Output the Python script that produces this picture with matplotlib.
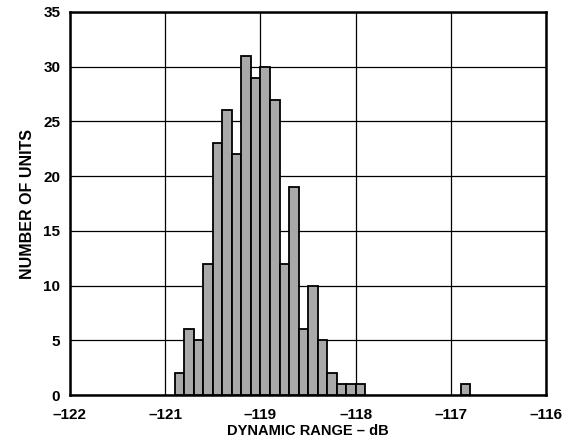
import matplotlib
matplotlib.use('Agg')
import matplotlib.pyplot as plt
plt.rcParams.update({'font.size': 10, 'font.family': ['Liberation Sans', 'DejaVu Sans'],
                     'font.weight': 'bold'})

# left edges of each 0.1 dB bin, and units counted in it
bin_left = [-120.9, -120.8, -120.7, -120.6, -120.5, -120.4, -120.3, -120.2, -120.1, -120.0,
            -119.9, -119.8, -119.7, -119.6, -119.5, -119.4, -119.3, -119.2, -119.1, -119.0,
            -117.9]
units = [2, 6, 5, 12, 23, 26, 22, 31, 29, 30,
         27, 12, 19, 6, 10, 5, 2, 1, 1, 1,
         1]
bin_width = 0.1

x_ticks = [-122, -121, -120, -119, -118, -117]
x_tick_labels = ['–122', '–121', '–119', '–118', '–117', '–116']
y_ticks = [0, 5, 10, 15, 20, 25, 30, 35]

fig = plt.figure(figsize=(5.83, 4.42), dpi=100)
ax = fig.add_axes([0.120, 0.106, 0.817, 0.867])

ax.bar(bin_left, units, width=bin_width, align='edge', color='#a9a9a9',
       edgecolor='black', linewidth=1.3, zorder=3)

ax.set_xlim(-122, -117)
ax.set_ylim(0, 35)
ax.set_xticks(x_ticks)
ax.set_xticklabels(x_tick_labels)
ax.set_yticks(y_ticks)
ax.tick_params(length=0, labelsize=11)
ax.tick_params(axis='x', pad=9)
ax.tick_params(axis='y', pad=7)
ax.grid(True, color='black', linewidth=0.9, zorder=0)
for s in ax.spines.values():
    s.set_linewidth(1.8)

ax.set_xlabel('DYNAMIC RANGE – dB', fontsize=10.5, fontweight='bold', labelpad=2)
ax.set_ylabel('NUMBER OF UNITS', fontsize=11.5, fontweight='bold', labelpad=6)

fig.savefig('out.png', dpi=100)
